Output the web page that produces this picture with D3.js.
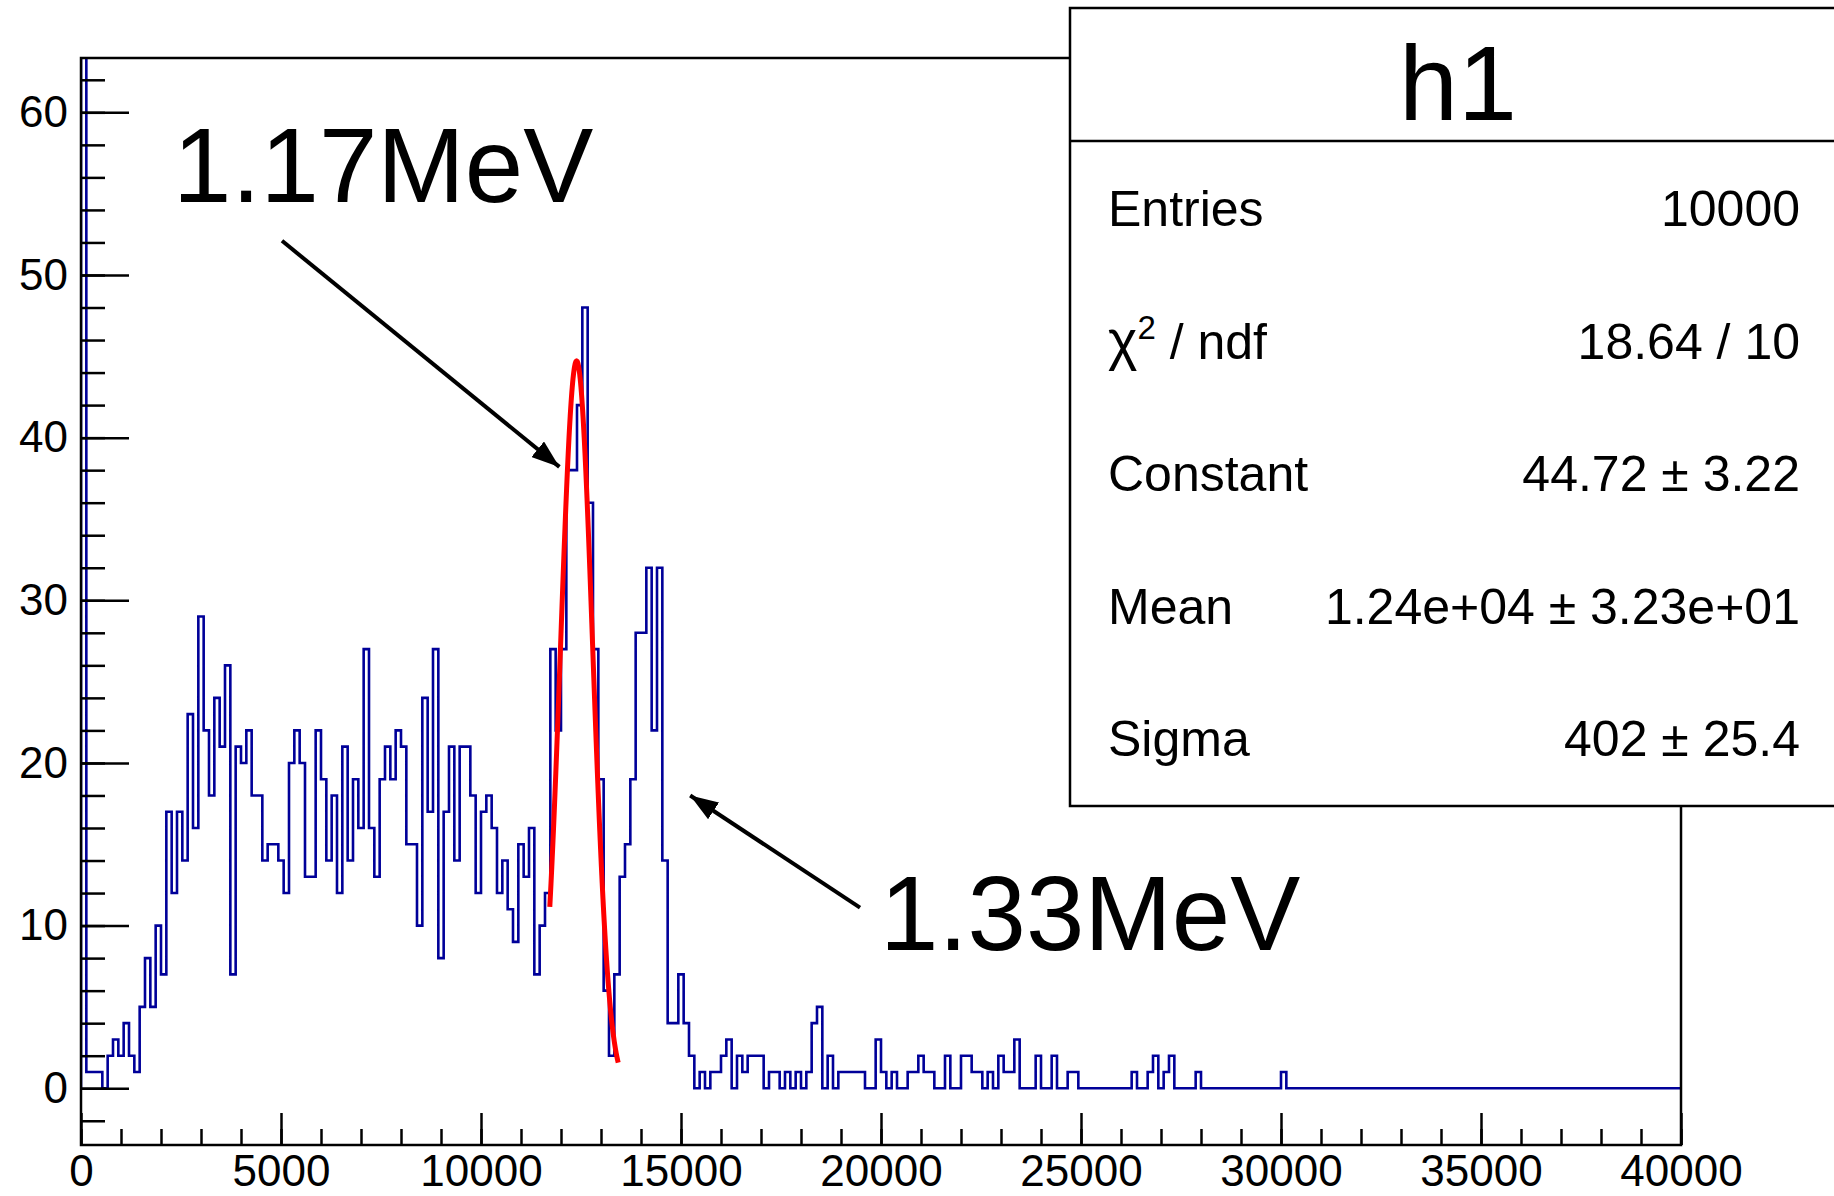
<!DOCTYPE html>
<html>
<head>
<meta charset="utf-8">
<script src="https://cdn.jsdelivr.net/npm/d3@7"></script>
<style>
  body { margin: 0; background: #fff; }
  svg { display: block; }
  text { font-family: "Liberation Sans", Helvetica, Arial, sans-serif; }
</style>
</head>
<body>
<div id="graph1"></div>
<script>
// h1 : 300 bins between 0 and 40000 (bin 0 is far off scale)
var nBins = 300, xMin = 0, xMax = 40000;
var counts = [
  8200, 1, 1, 1, 0, 2, 3, 2, 4, 2, 1, 5, 8, 5, 10, 7, 17, 12, 17, 14,
  23, 16, 29, 22, 18, 24, 21, 26, 7, 21, 20, 22, 18, 18, 14, 15, 15, 14, 12, 20,
  22, 20, 13, 13, 22, 19, 14, 18, 12, 21, 14, 19, 16, 27, 16, 13, 19, 21, 19, 22,
  21, 15, 15, 10, 24, 17, 27, 8, 17, 21, 14, 21, 21, 18, 12, 17, 18, 16, 12, 14,
  11, 9, 15, 13, 16, 7, 10, 12, 27, 22, 27, 38, 38, 42, 48, 36, 27, 19, 6, 2,
  7, 13, 15, 19, 28, 28, 32, 22, 32, 14, 4, 4, 7, 4, 2, 0, 1, 0, 1, 1,
  2, 3, 0, 2, 1, 2, 2, 2, 0, 1, 1, 0, 1, 0, 1, 0, 1, 4, 5, 0,
  2, 0, 1, 1, 1, 1, 1, 0, 0, 3, 1, 0, 1, 0, 0, 1, 1, 2, 1, 1,
  0, 0, 2, 0, 0, 2, 2, 1, 1, 0, 1, 0, 2, 1, 1, 3, 0, 0, 0, 2,
  0, 0, 2, 0, 0, 1, 1, 0, 0, 0, 0, 0, 0, 0, 0, 0, 0, 1, 0, 0,
  1, 2, 0, 1, 2, 0, 0, 0, 0, 1, 0, 0, 0, 0, 0, 0, 0, 0, 0, 0,
  0, 0, 0, 0, 0, 1, 0, 0, 0, 0, 0, 0, 0, 0, 0, 0, 0, 0, 0, 0,
  0, 0, 0, 0, 0, 0, 0, 0, 0, 0, 0, 0, 0, 0, 0, 0, 0, 0, 0, 0,
  0, 0, 0, 0, 0, 0, 0, 0, 0, 0, 0, 0, 0, 0, 0, 0, 0, 0, 0, 0,
  0, 0, 0, 0, 0, 0, 0, 0, 0, 0, 0, 0, 0, 0, 0, 0, 0, 0, 0, 0
];

var xTickValues = [0, 5000, 10000, 15000, 20000, 25000, 30000, 35000, 40000];
var yTickValues = [0, 10, 20, 30, 40, 50, 60];

// gaus fit: constant, mean, sigma and the fitted range
var fitParams = [44.72, 12390, 402];
var fitRange = [11720, 13430];

var statTitle = "h1";
var statNames = ["Entries", "chi2", "Constant", "Mean", "Sigma"];
var statValues = ["10000", "18.64 / 10", "44.72 \u00b1 3.22", "1.24e+04 \u00b1 3.23e+01", "402 \u00b1 25.4"];

var peakLabels = ["1.17MeV", "1.33MeV"];

var W = 1834, H = 1196;
var frame = {left: 81, top: 58, right: 1681, bottom: 1145};

var svg = d3.select("#graph1")
  .append("svg")
    .attr("width", W)
    .attr("height", H);

var x = d3.scaleLinear().domain([xMin, xMax]).range([frame.left, frame.right]);
var y = d3.scaleLinear().domain([-3.49, 63.34]).range([frame.bottom, frame.top]);

svg.append("clipPath").attr("id", "clip")
  .append("rect")
    .attr("x", frame.left).attr("y", frame.top)
    .attr("width", frame.right - frame.left)
    .attr("height", frame.bottom - frame.top);

// histogram outline as steps
var binW = (xMax - xMin) / nBins;
var steps = [[xMin, 0]];
counts.forEach(function(c, i) {
  steps.push([xMin + i * binW, c]);
  steps.push([xMin + (i + 1) * binW, c]);
});
steps.push([xMax, 0]);

var line = d3.line()
  .x(function(d) { return x(d[0]); })
  .y(function(d) { return y(d[1]); });

svg.append("path")
  .attr("clip-path", "url(#clip)")
  .attr("d", line(steps))
  .attr("fill", "none")
  .attr("stroke", "#000099")
  .attr("stroke-width", 2.6);

// fitted gaussian
var fitPts = d3.range(fitRange[0], fitRange[1] + 1, 10).map(function(v) {
  var t = (v - fitParams[1]) / fitParams[2];
  return [v, fitParams[0] * Math.exp(-0.5 * t * t)];
});
svg.append("path")
  .attr("d", line(fitPts))
  .attr("fill", "none")
  .attr("stroke", "#ff0000")
  .attr("stroke-width", 5)
  .attr("stroke-linejoin", "round");

// frame
svg.append("rect")
  .attr("x", frame.left).attr("y", frame.top)
  .attr("width", frame.right - frame.left)
  .attr("height", frame.bottom - frame.top)
  .attr("fill", "none")
  .attr("stroke", "#000")
  .attr("stroke-width", 2.5);

// Y axis, major + minor ticks
var yAxis = d3.axisLeft(y).tickValues(yTickValues).tickSize(-48).tickPadding(13);
var yMinor = d3.axisLeft(y).tickValues(d3.range(-2, 63, 2)).tickSize(-24).tickFormat("");
var gy = svg.append("g").attr("transform", "translate(" + frame.left + ",0)").call(yAxis);
svg.append("g").attr("transform", "translate(" + frame.left + ",0)").call(yMinor)
  .select(".domain").remove();
gy.select(".domain").remove();

// X axis
var xAxis = d3.axisBottom(x).tickValues(xTickValues).tickSize(-32).tickPadding(10)
  .tickFormat(d3.format("d"));
var xMinor = d3.axisBottom(x).tickValues(d3.range(0, 40001, 1000)).tickSize(-16).tickFormat("");
var gx = svg.append("g").attr("transform", "translate(0," + frame.bottom + ")").call(xAxis);
svg.append("g").attr("transform", "translate(0," + frame.bottom + ")").call(xMinor)
  .select(".domain").remove();
gx.select(".domain").remove();

svg.selectAll(".tick line").attr("stroke", "#000").attr("stroke-width", 2.5);
svg.selectAll(".tick text")
  .attr("fill", "#000")
  .style("font-size", "44px")
  .style("font-family", "'Liberation Sans', Helvetica, Arial, sans-serif");

// arrows and peak labels
svg.append("defs").append("marker")
  .attr("id", "head")
  .attr("viewBox", "0 0 28 20")
  .attr("refX", 28).attr("refY", 10)
  .attr("markerWidth", 28).attr("markerHeight", 20)
  .attr("markerUnits", "userSpaceOnUse")
  .attr("orient", "auto")
  .append("path")
    .attr("d", "M0,0 L28,10 L0,20 Z")
    .attr("fill", "#000");

var arrows = [
  [[5025, 52.1], [11960, 38.2]],
  [[19475, 11.1], [15230, 18.0]]
];
arrows.forEach(function(a) {
  svg.append("line")
    .attr("x1", x(a[0][0])).attr("y1", y(a[0][1]))
    .attr("x2", x(a[1][0])).attr("y2", y(a[1][1]))
    .attr("stroke", "#000")
    .attr("stroke-width", 4)
    .attr("marker-end", "url(#head)");
});

var labelPos = [[2300, 54.5], [19975, 8.5]];
peakLabels.forEach(function(t, i) {
  svg.append("text")
    .attr("x", x(labelPos[i][0]))
    .attr("y", y(labelPos[i][1]))
    .style("font-size", "105px")
    .text(t);
});

// stats box
var box = svg.append("g");
box.append("rect")
  .attr("x", 1070).attr("y", 8)
  .attr("width", 780).attr("height", 798)
  .attr("fill", "#fff")
  .attr("stroke", "#000")
  .attr("stroke-width", 2.5);
box.append("line")
  .attr("x1", 1070).attr("x2", 1850)
  .attr("y1", 141).attr("y2", 141)
  .attr("stroke", "#000")
  .attr("stroke-width", 2.5);
box.append("text")
  .attr("x", 1458).attr("y", 120)
  .attr("text-anchor", "middle")
  .style("font-size", "106px")
  .text(statTitle);

statNames.forEach(function(name, i) {
  var yy = 226 + i * 132.5;
  var t = box.append("text")
    .attr("x", 1108).attr("y", yy)
    .style("font-size", "50px");
  if (name === "chi2") {
    t.append("tspan").style("font-size", "56px").text("\u03c7");
    t.append("tspan").attr("dy", -20).style("font-size", "33px").text("2");
    t.append("tspan").attr("dy", 20).text(" / ndf");
  } else {
    t.text(name);
  }
  box.append("text")
    .attr("x", 1800).attr("y", yy)
    .attr("text-anchor", "end")
    .style("font-size", "50px")
    .text(statValues[i]);
});
</script>
</body>
</html>
